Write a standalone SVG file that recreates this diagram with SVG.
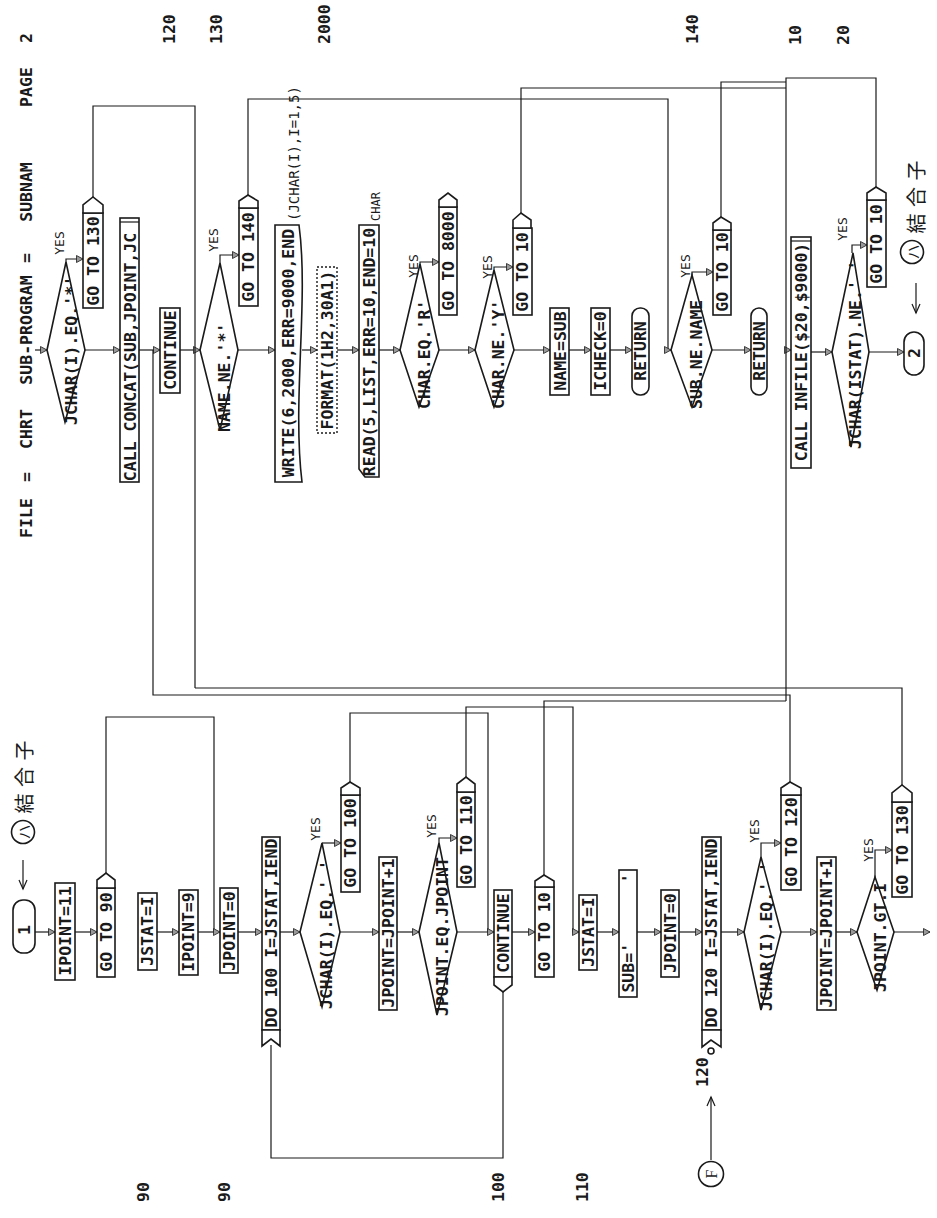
<svg xmlns="http://www.w3.org/2000/svg" width="937" height="1218" viewBox="0 0 937 1218">
<defs>
<style>
.ln{fill:none;stroke:#1a1a1a;stroke-width:1.2}
.fl{fill:none;stroke:#1a1a1a;stroke-width:1.2;marker-end:url(#ar)}
.oa{fill:none;stroke:#1a1a1a;stroke-width:1.2;marker-end:url(#op)}
.bx{fill:#fff;stroke:#1a1a1a;stroke-width:1.6}
.dt{fill:#fff;stroke:#1a1a1a;stroke-width:1.4;stroke-dasharray:2 2}
.t{font-family:"DejaVu Sans Mono","Liberation Mono",monospace;font-size:16.5px;font-weight:bold;fill:#1a1a1a}
.y{font-size:13px;font-weight:normal}
.s{font-size:12px;font-weight:normal}
.m{font-size:14px;font-weight:normal}
.j{font-family:"Noto Sans CJK JP","Noto Sans CJK SC",sans-serif;font-size:20px;fill:#1a1a1a}
</style>
<marker id="ar" markerUnits="userSpaceOnUse" markerWidth="9" markerHeight="9" refX="7" refY="4" orient="auto">
<path d="M0.5,0.5 L7,4 L0.5,7.5 Z" fill="#999" stroke="#1a1a1a" stroke-width="0.8"/>
</marker>
<marker id="op" markerUnits="userSpaceOnUse" markerWidth="12" markerHeight="12" refX="10" refY="5" orient="auto">
<path d="M1,1 L10,5 L1,9" fill="none" stroke="#1a1a1a" stroke-width="1.2"/>
</marker>
</defs>
<rect width="937" height="1218" fill="#fff"/>

<g id="header">
<text class="t" transform="translate(26,518) rotate(-90)" text-anchor="middle" dominant-baseline="central">FILE</text>
<text class="t" transform="translate(26,477) rotate(-90)" text-anchor="middle" dominant-baseline="central">=</text>
<text class="t" transform="translate(26,429) rotate(-90)" text-anchor="middle" dominant-baseline="central">CHRT</text>
<text class="t" transform="translate(26,330) rotate(-90)" text-anchor="middle" dominant-baseline="central">SUB-PROGRAM</text>
<text class="t" transform="translate(26,258) rotate(-90)" text-anchor="middle" dominant-baseline="central">=</text>
<text class="t" transform="translate(26,192) rotate(-90)" text-anchor="middle" dominant-baseline="central">SUBNAM</text>
<text class="t" transform="translate(26,87) rotate(-90)" text-anchor="middle" dominant-baseline="central">PAGE</text>
<text class="t" transform="translate(26,38) rotate(-90)" text-anchor="middle" dominant-baseline="central">2</text>
</g>

<g id="labels">
<text class="t" transform="translate(169,44) rotate(-90)" dominant-baseline="central">120</text>
<text class="t" transform="translate(216,44) rotate(-90)" dominant-baseline="central">130</text>
<text class="t" transform="translate(324,44) rotate(-90)" dominant-baseline="central">2000</text>
<text class="t" transform="translate(692,44) rotate(-90)" dominant-baseline="central">140</text>
<text class="t" transform="translate(795,45) rotate(-90)" dominant-baseline="central">10</text>
<text class="t" transform="translate(843,45) rotate(-90)" dominant-baseline="central">20</text>
<text class="t" transform="translate(143,1202) rotate(-90)" dominant-baseline="central">90</text>
<text class="t" transform="translate(224,1202) rotate(-90)" dominant-baseline="central">90</text>
<text class="t" transform="translate(498,1202) rotate(-90)" dominant-baseline="central">100</text>
<text class="t" transform="translate(582,1202) rotate(-90)" dominant-baseline="central">110</text>
</g>

<g id="connectors">
<path class="fl" d="M35,350 L47,350"/>
<path class="fl" d="M85,350 L120,350"/>
<path class="fl" d="M139,350 L160,350"/>
<path class="fl" d="M180,350 L200,350"/>
<path class="fl" d="M238,350 L275,350"/>
<path class="fl" d="M302,350 L317,350"/>
<path class="fl" d="M337,350 L359,350"/>
<path class="fl" d="M379,350 L400,350"/>
<path class="fl" d="M439,350 L475,350"/>
<path class="fl" d="M514,350 L550,350"/>
<path class="fl" d="M569,350 L591,350"/>
<path class="fl" d="M610,350 L632,350"/>
<path class="fl" d="M248,195 L248,99 L668,99 L668,350 L671,350"/>
<path class="fl" d="M712,350 L751,350"/>
<path class="fl" d="M786,350 L791,350"/>
<path class="fl" d="M811,352 L832,352"/>
<path class="fl" d="M869,352 L904,352"/>
<path class="fl" d="M66,262 L66,259 L83,259"/>
<path class="fl" d="M220,263 L220,255 L239,255"/>
<path class="fl" d="M420,264 L420,262 L439,262"/>
<path class="fl" d="M494,270 L494,267 L513,267"/>
<path class="fl" d="M692,275 L692,272 L713,272"/>
<path class="fl" d="M852,253 L852,245 L867,245"/>
<path class="ln" d="M93,197 L93,106 L195,106 L195,688"/>
<path class="ln" d="M902,785 L902,688 L195,688"/>
<path class="ln" d="M521,213 L521,88 L786,88"/>
<path class="ln" d="M721,217 L721,82 L786,82"/>
<path class="ln" d="M876,187 L876,78 L786,78 L786,701"/>
<path class="ln" d="M790,782 L790,695 L153,695 L153,350"/>
<path class="ln" d="M350,782 L350,713 L488,713 L488,932"/>
<path class="fl" d="M466,777 L466,707 L573,707 L573,932 L579,932"/>
<path class="ln" d="M106,873 L106,717 L214,717 L214,932"/>
<path class="ln" d="M544,875 L544,701 L786,701"/>
<path class="ln" d="M271,1045 L271,1158 L503,1158 L503,992"/>
<path class="fl" d="M35,932 L55,932"/>
<path class="fl" d="M75,932 L97,932"/>
<path class="fl" d="M157,932 L179,932"/>
<path class="fl" d="M198,932 L220,932"/>
<path class="fl" d="M238,932 L262,932"/>
<path class="fl" d="M280,932 L300,932"/>
<path class="fl" d="M340,932 L379,932"/>
<path class="fl" d="M397,932 L419,932"/>
<path class="fl" d="M457,932 L494,932"/>
<path class="fl" d="M512,932 L535,932"/>
<path class="fl" d="M597,932 L619,932"/>
<path class="fl" d="M637,932 L661,932"/>
<path class="fl" d="M679,932 L702,932"/>
<path class="fl" d="M721,932 L744,932"/>
<path class="fl" d="M781,932 L817,932"/>
<path class="fl" d="M836,932 L857,932"/>
<path class="fl" d="M894,932 L930,932"/>
<path class="fl" d="M322,843 L341,843"/>
<path class="fl" d="M439,843 L439,838 L457,838"/>
<path class="fl" d="M761,857 L761,843 L781,843"/>
<path class="fl" d="M875,877 L875,850 L892,850"/>
<path class="oa" d="M711,1160 L711,1097"/>
<path class="oa" d="M23,860 L23,889"/>
<path class="oa" d="M916,283 L916,313"/>
</g>

<g id="r_if1">
<polygon class="bx" points="47,350 66,262 85,350 65,422"/>
<text class="t" transform="translate(71,425) rotate(-90)" dominant-baseline="central">JCHAR(I).EQ.'*'</text>
<text class="t y" transform="translate(59,243) rotate(-90)" text-anchor="middle" dominant-baseline="central">YES</text>
</g>
<g id="r_goto130">
<rect class="bx" x="83" y="213" width="20" height="95"/>
<polygon class="bx" points="83,213 83,205 93,197 103,205 103,213"/>
<text class="t" transform="translate(93,261) rotate(-90)" text-anchor="middle" dominant-baseline="central">GO TO 130</text>
</g>
<g id="r_concat">
<rect class="bx" x="120" y="218" width="19" height="264"/>
<line class="ln" x1="120" y1="222" x2="139" y2="222"/>
<text class="t" transform="translate(130,357) rotate(-90)" text-anchor="middle" dominant-baseline="central">CALL CONCAT(SUB,JPOINT,JC</text>
</g>
<g id="r_cont120">
<rect class="bx" x="160" y="308" width="20" height="85"/>
<text class="t" transform="translate(170,350) rotate(-90)" text-anchor="middle" dominant-baseline="central">CONTINUE</text>
</g>
<g id="r_if130">
<polygon class="bx" points="200,350 220,263 238,350 220,430"/>
<text class="t" transform="translate(224,432) rotate(-90)" dominant-baseline="central">NAME.NE.'*'</text>
<text class="t y" transform="translate(213,240) rotate(-90)" text-anchor="middle" dominant-baseline="central">YES</text>
</g>
<g id="r_goto140">
<rect class="bx" x="239" y="208" width="19" height="98"/>
<polygon class="bx" points="239,208 239,201 248,195 258,201 258,208"/>
<text class="t" transform="translate(248,257) rotate(-90)" text-anchor="middle" dominant-baseline="central">GO TO 140</text>
</g>
<g id="r_write">
<path class="bx" d="M275,225 L299,225 C309,300 292,400 302,482 L275,482 Z"/>
<text class="t" transform="translate(288,353) rotate(-90)" text-anchor="middle" dominant-baseline="central">WRITE(6,2000,ERR=9000,END</text>
<text class="t m" transform="translate(294,221) rotate(-90)" dominant-baseline="central">(JCHAR(I),I=1,5)</text>
</g>
<g id="r_format">
<rect class="dt" x="317" y="267" width="20" height="166"/>
<text class="t" transform="translate(327,350) rotate(-90)" text-anchor="middle" dominant-baseline="central">FORMAT(1H2,30A1)</text>
</g>
<g id="r_read">
<path class="bx" d="M359,225 L379,225 L379,477 L365,477 L359,469 Z"/>
<text class="t" transform="translate(369,352) rotate(-90)" text-anchor="middle" dominant-baseline="central">READ(5,LIST,ERR=10,END=10</text>
<text class="t s" transform="translate(376,221) rotate(-90)" dominant-baseline="central">CHAR</text>
</g>
<g id="r_ifR">
<polygon class="bx" points="400,350 420,264 439,350 419,407"/>
<text class="t" transform="translate(424,409) rotate(-90)" dominant-baseline="central">CHAR.EQ.'R'</text>
<text class="t y" transform="translate(413,266) rotate(-90)" text-anchor="middle" dominant-baseline="central">YES</text>
</g>
<g id="r_goto8000">
<rect class="bx" x="439" y="207" width="18" height="108"/>
<polygon class="bx" points="439,207 439,200 448,193 457,200 457,207"/>
<text class="t" transform="translate(448,261) rotate(-90)" text-anchor="middle" dominant-baseline="central">GO TO 8000</text>
</g>
<g id="r_ifY">
<polygon class="bx" points="475,350 494,270 514,350 494,407"/>
<text class="t" transform="translate(498,409) rotate(-90)" dominant-baseline="central">CHAR.NE.'Y'</text>
<text class="t y" transform="translate(487,267) rotate(-90)" text-anchor="middle" dominant-baseline="central">YES</text>
</g>
<g id="r_goto10a">
<rect class="bx" x="513" y="228" width="19" height="87"/>
<polygon class="bx" points="513,228 513,220 521,213 531,220 531,228"/>
<text class="t" transform="translate(522,272) rotate(-90)" text-anchor="middle" dominant-baseline="central">GO TO 10</text>
</g>
<g id="r_namesub">
<rect class="bx" x="550" y="308" width="19" height="87"/>
<text class="t" transform="translate(560,351) rotate(-90)" text-anchor="middle" dominant-baseline="central">NAME=SUB</text>
</g>
<g id="r_icheck">
<rect class="bx" x="591" y="308" width="19" height="87"/>
<text class="t" transform="translate(600,351) rotate(-90)" text-anchor="middle" dominant-baseline="central">ICHECK=0</text>
</g>
<g id="r_return1">
<rect class="bx" x="632" y="308" width="17" height="87" rx="8" ry="8"/>
<text class="t" transform="translate(640,351) rotate(-90)" text-anchor="middle" dominant-baseline="central">RETURN</text>
</g>
<g id="r_if140">
<polygon class="bx" points="671,350 692,275 712,350 692,407"/>
<text class="t" transform="translate(696,409) rotate(-90)" dominant-baseline="central">SUB.NE.NAME</text>
<text class="t y" transform="translate(685,266) rotate(-90)" text-anchor="middle" dominant-baseline="central">YES</text>
</g>
<g id="r_goto10b">
<rect class="bx" x="713" y="230" width="18" height="85"/>
<polygon class="bx" points="713,230 713,223 721,217 731,223 731,230"/>
<text class="t" transform="translate(722,272) rotate(-90)" text-anchor="middle" dominant-baseline="central">GO TO 10</text>
</g>
<g id="r_return2">
<rect class="bx" x="751" y="308" width="16" height="87" rx="8" ry="8"/>
<text class="t" transform="translate(759,351) rotate(-90)" text-anchor="middle" dominant-baseline="central">RETURN</text>
</g>
<g id="r_infile">
<rect class="bx" x="791" y="237" width="20" height="231"/>
<line class="ln" x1="791" y1="241" x2="811" y2="241"/>
<text class="t" transform="translate(801,352) rotate(-90)" text-anchor="middle" dominant-baseline="central">CALL INFILE($20,$9000)</text>
</g>
<g id="r_if20">
<polygon class="bx" points="832,352 853,253 869,352 851,447"/>
<text class="t" transform="translate(855,449) rotate(-90)" dominant-baseline="central">JCHAR(ISTAT).NE.' '</text>
<text class="t y" transform="translate(842,229) rotate(-90)" text-anchor="middle" dominant-baseline="central">YES</text>
</g>
<g id="r_goto10c">
<rect class="bx" x="867" y="200" width="19" height="87"/>
<polygon class="bx" points="867,200 867,193 876,187 886,193 886,200"/>
<text class="t" transform="translate(876,244) rotate(-90)" text-anchor="middle" dominant-baseline="central">GO TO 10</text>
</g>
<g id="r_conn2">
<rect class="bx" x="904" y="332" width="20" height="43" rx="10" ry="10"/>
<text class="t" transform="translate(914,353) rotate(-90)" text-anchor="middle" dominant-baseline="central">2</text>
</g>
<g id="r_note">
<circle class="bx" cx="912" cy="252" r="11.5"/>
<text class="j" style="font-size:15px" transform="translate(912,252) rotate(-90)" text-anchor="middle" dominant-baseline="central">ハ</text>
<text class="j" transform="translate(915,197) rotate(-90)" text-anchor="middle" dominant-baseline="central" textLength="73">結合子</text>
</g>

<g id="l_conn1">
<rect class="bx" x="13" y="900" width="22" height="53" rx="10" ry="10"/>
<text class="t" transform="translate(24,930) rotate(-90)" text-anchor="middle" dominant-baseline="central">1</text>
</g>
<g id="l_note">
<circle class="bx" cx="23" cy="832" r="11.5"/>
<text class="j" style="font-size:15px" transform="translate(23,832) rotate(-90)" text-anchor="middle" dominant-baseline="central">ハ</text>
<text class="j" transform="translate(23,777) rotate(-90)" text-anchor="middle" dominant-baseline="central" textLength="73">結合子</text>
</g>
<g id="l_ipoint11">
<rect class="bx" x="55" y="883" width="20" height="97"/>
<text class="t" transform="translate(65,931) rotate(-90)" text-anchor="middle" dominant-baseline="central">IPOINT=11</text>
</g>
<g id="l_goto90">
<rect class="bx" x="97" y="888" width="18" height="89"/>
<polygon class="bx" points="97,888 97,880 106,873 115,880 115,888"/>
<text class="t" transform="translate(106,932) rotate(-90)" text-anchor="middle" dominant-baseline="central">GO TO 90</text>
</g>
<g id="l_jstat1">
<rect class="bx" x="138" y="893" width="19" height="77"/>
<text class="t" transform="translate(147,931) rotate(-90)" text-anchor="middle" dominant-baseline="central">JSTAT=I</text>
</g>
<g id="l_ipoint9">
<rect class="bx" x="179" y="890" width="19" height="85"/>
<text class="t" transform="translate(188,932) rotate(-90)" text-anchor="middle" dominant-baseline="central">IPOINT=9</text>
</g>
<g id="l_jpoint0a">
<rect class="bx" x="220" y="888" width="18" height="85"/>
<text class="t" transform="translate(229,931) rotate(-90)" text-anchor="middle" dominant-baseline="central">JPOINT=0</text>
</g>
<g id="l_do100">
<rect class="bx" x="262" y="837" width="18" height="193"/>
<polygon class="bx" points="262,1030 262,1046 271,1039 280,1046 280,1030"/>
<text class="t" transform="translate(271,933) rotate(-90)" text-anchor="middle" dominant-baseline="central">DO 100 I=JSTAT,IEND</text>
</g>
<g id="l_if1">
<polygon class="bx" points="300,932 322,843 340,932 322,1007"/>
<text class="t" transform="translate(326,1009) rotate(-90)" dominant-baseline="central">JCHAR(I).EQ.' '</text>
<text class="t y" transform="translate(315,829) rotate(-90)" text-anchor="middle" dominant-baseline="central">YES</text>
</g>
<g id="l_goto100">
<rect class="bx" x="341" y="795" width="19" height="97"/>
<polygon class="bx" points="341,795 341,788 350,782 360,788 360,795"/>
<text class="t" transform="translate(350,843) rotate(-90)" text-anchor="middle" dominant-baseline="central">GO TO 100</text>
</g>
<g id="l_jpinc1">
<rect class="bx" x="379" y="857" width="18" height="153"/>
<text class="t" transform="translate(388,933) rotate(-90)" text-anchor="middle" dominant-baseline="central">JPOINT=JPOINT+1</text>
</g>
<g id="l_if2">
<polygon class="bx" points="419,932 439,843 457,932 437,1015"/>
<text class="t" transform="translate(442,1016) rotate(-90)" dominant-baseline="central">JPOINT.EQ.JPOINT</text>
<text class="t y" transform="translate(431,826) rotate(-90)" text-anchor="middle" dominant-baseline="central">YES</text>
</g>
<g id="l_goto110">
<rect class="bx" x="457" y="792" width="18" height="95"/>
<polygon class="bx" points="457,792 457,784 466,777 475,784 475,792"/>
<text class="t" transform="translate(466,840) rotate(-90)" text-anchor="middle" dominant-baseline="central">GO TO 110</text>
</g>
<g id="l_cont100">
<rect class="bx" x="494" y="890" width="18" height="87"/>
<polygon class="bx" points="494,977 494,985 503,992 512,985 512,977"/>
<text class="t" transform="translate(503,933) rotate(-90)" text-anchor="middle" dominant-baseline="central">CONTINUE</text>
</g>
<g id="l_goto10">
<rect class="bx" x="535" y="887" width="19" height="90"/>
<polygon class="bx" points="535,887 535,881 544,875 554,881 554,887"/>
<text class="t" transform="translate(544,932) rotate(-90)" text-anchor="middle" dominant-baseline="central">GO TO 10</text>
</g>
<g id="l_jstat2">
<rect class="bx" x="579" y="895" width="18" height="75"/>
<text class="t" transform="translate(588,932) rotate(-90)" text-anchor="middle" dominant-baseline="central">JSTAT=I</text>
</g>
<g id="l_sub">
<rect class="bx" x="619" y="870" width="18" height="127"/>
<text class="t" transform="translate(628,933) rotate(-90)" text-anchor="middle" dominant-baseline="central" xml:space="preserve">SUB='      '</text>
</g>
<g id="l_jpoint0b">
<rect class="bx" x="661" y="890" width="18" height="87"/>
<text class="t" transform="translate(670,933) rotate(-90)" text-anchor="middle" dominant-baseline="central">JPOINT=0</text>
</g>
<g id="l_do120">
<rect class="bx" x="702" y="837" width="19" height="193"/>
<polygon class="bx" points="702,1030 702,1047 711,1040 721,1047 721,1030"/>
<circle class="bx" cx="711" cy="1051" r="3"/>
<text class="t" transform="translate(711,933) rotate(-90)" text-anchor="middle" dominant-baseline="central">DO 120 I=JSTAT,IEND</text>
<text class="t" transform="translate(702,1087) rotate(-90)" dominant-baseline="central">120</text>
</g>
<g id="l_connF">
<circle class="bx" cx="711" cy="1174" r="12.5"/>
<text style="font-family:'Liberation Serif',serif;font-size:16px;fill:#1a1a1a" transform="translate(711,1174) rotate(-90)" text-anchor="middle" dominant-baseline="central">F</text>
</g>
<g id="l_if3">
<polygon class="bx" points="744,932 761,857 781,932 761,1010"/>
<text class="t" transform="translate(766,1011) rotate(-90)" dominant-baseline="central">JCHAR(I).EQ.' '</text>
<text class="t y" transform="translate(754,831) rotate(-90)" text-anchor="middle" dominant-baseline="central">YES</text>
</g>
<g id="l_goto120">
<rect class="bx" x="781" y="795" width="20" height="95"/>
<polygon class="bx" points="781,795 781,788 790,782 801,788 801,795"/>
<text class="t" transform="translate(791,842) rotate(-90)" text-anchor="middle" dominant-baseline="central">GO TO 120</text>
</g>
<g id="l_jpinc2">
<rect class="bx" x="817" y="857" width="19" height="153"/>
<text class="t" transform="translate(826,933) rotate(-90)" text-anchor="middle" dominant-baseline="central">JPOINT=JPOINT+1</text>
</g>
<g id="l_if4">
<polygon class="bx" points="857,932 875,877 894,932 877,990"/>
<text class="t" transform="translate(880,992) rotate(-90)" dominant-baseline="central">JPOINT.GT.I</text>
<text class="t y" transform="translate(868,850) rotate(-90)" text-anchor="middle" dominant-baseline="central">YES</text>
</g>
<g id="l_goto130">
<rect class="bx" x="892" y="802" width="20" height="95"/>
<polygon class="bx" points="892,802 892,793 902,785 912,793 912,802"/>
<text class="t" transform="translate(902,850) rotate(-90)" text-anchor="middle" dominant-baseline="central">GO TO 130</text>
</g>
</svg>
